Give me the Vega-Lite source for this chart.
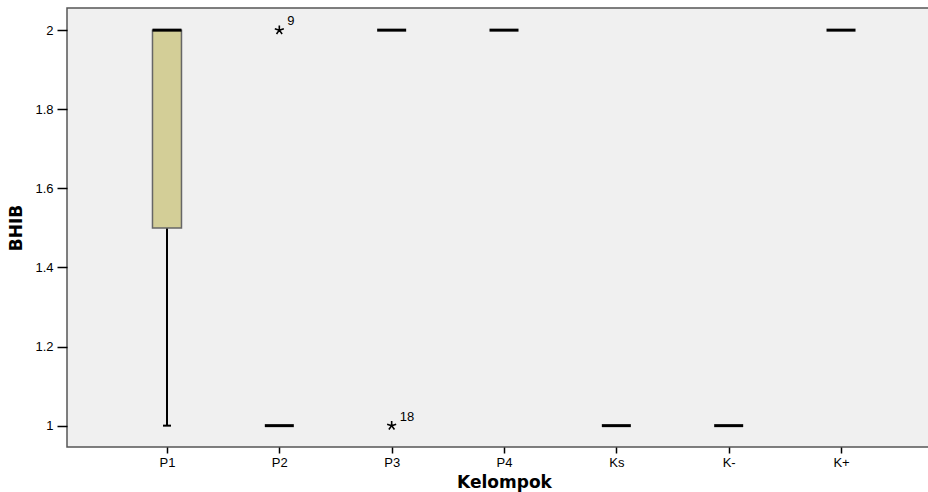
{
  "$schema": "https://vega.github.io/schema/vega-lite/v6.json",
  "autosize": "none",
  "padding": {"left": 67, "top": 8, "right": 0, "bottom": 45},
  "width": 874,
  "height": 439,
  "background": "white",
  "config": {
    "font": "Liberation Sans",
    "view": {"fill": "#f0f0f0", "stroke": "#555555", "strokeWidth": 1.5},
    "axis": {"domain": false, "grid": false, "tickColor": "black", "tickWidth": 1.5, "labelColor": "black", "titleColor": "black", "labelFont": "Liberation Sans", "titleFont": "DejaVu Sans"}
  },
  "datasets": {
    "boxes": [
      {"group": "P1", "q1": 1.5, "q3": 2, "median": 2, "low": 1, "high": 2},
      {"group": "P2", "q1": 1, "q3": 1, "median": 1, "low": 1, "high": 1},
      {"group": "P3", "q1": 2, "q3": 2, "median": 2, "low": 2, "high": 2},
      {"group": "P4", "q1": 2, "q3": 2, "median": 2, "low": 2, "high": 2},
      {"group": "Ks", "q1": 1, "q3": 1, "median": 1, "low": 1, "high": 1},
      {"group": "K-", "q1": 1, "q3": 1, "median": 1, "low": 1, "high": 1},
      {"group": "K+", "q1": 2, "q3": 2, "median": 2, "low": 2, "high": 2}
    ],
    "outliers": [
      {"group": "P2", "value": 2, "case": "9"},
      {"group": "P3", "value": 1, "case": "18"}
    ]
  },
  "encoding": {
    "x": {
      "field": "group", "type": "nominal",
      "scale": {"type": "point", "domain": ["P1", "P2", "P3", "P4", "Ks", "K-", "K+"], "padding": 0.89},
      "axis": {"title": "Kelompok", "labelAngle": 0, "labelFontSize": 13, "titleFontSize": 17, "titleFontWeight": "bold", "tickSize": 6, "labelPadding": 3, "titlePadding": 5}
    }
  },
  "layer": [
    {
      "data": {"name": "boxes"},
      "transform": [{"filter": "datum.low < datum.q1"}],
      "mark": {"type": "rule", "color": "black", "strokeWidth": 2},
      "encoding": {
        "y": {"field": "low", "type": "quantitative", "scale": {"domain": [0.946, 2.056], "nice": false, "zero": false},
          "axis": {"title": "BHIB", "values": [1, 1.2, 1.4, 1.6, 1.8, 2], "format": "~g", "labelFontSize": 13, "titleFontSize": 17, "titleFontWeight": "bold", "tickSize": 10, "labelPadding": 4, "titlePadding": 9}},
        "y2": {"field": "q1"}
      }
    },
    {
      "data": {"name": "boxes"},
      "transform": [{"filter": "datum.low < datum.q1"}],
      "mark": {"type": "tick", "color": "black", "opacity": 1, "size": 8, "thickness": 2},
      "encoding": {"y": {"field": "low", "type": "quantitative"}}
    },
    {
      "data": {"name": "boxes"},
      "transform": [{"filter": "datum.q1 < datum.q3"}],
      "mark": {"type": "bar", "size": 29, "fill": "#d3ce97", "stroke": "#666666", "strokeWidth": 1.5, "opacity": 1},
      "encoding": {"y": {"field": "q1", "type": "quantitative"}, "y2": {"field": "q3"}}
    },
    {
      "data": {"name": "boxes"},
      "mark": {"type": "tick", "color": "black", "opacity": 1, "size": 29, "thickness": 3},
      "encoding": {"y": {"field": "median", "type": "quantitative"}}
    },
    {
      "data": {"name": "outliers"},
      "mark": {"type": "point", "shape": "M0,0L0,-1M0,0L0.951,-0.309M0,0L0.588,0.809M0,0L-0.588,0.809M0,0L-0.951,-0.309", "filled": false, "stroke": "black", "strokeWidth": 1.6, "size": 90, "opacity": 1},
      "encoding": {"y": {"field": "value", "type": "quantitative"}}
    },
    {
      "data": {"name": "outliers"},
      "mark": {"type": "text", "align": "left", "baseline": "middle", "dx": 8, "dy": -9, "fontSize": 13, "color": "black"},
      "encoding": {"y": {"field": "value", "type": "quantitative"}, "text": {"field": "case"}}
    }
  ]
}
